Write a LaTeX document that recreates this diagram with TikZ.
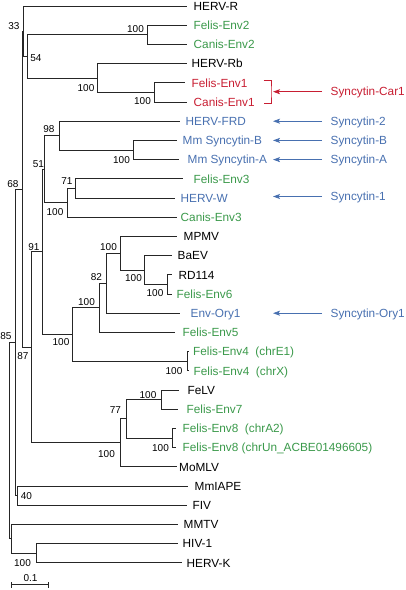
\documentclass[tikz,border=0pt]{standalone}
\usepackage{fontspec}
\setmainfont{Liberation Sans}
\usetikzlibrary{arrows.meta}
\definecolor{lgreen}{RGB}{58,153,74}
\definecolor{lred}{RGB}{200,30,50}
\definecolor{lblue}{RGB}{72,112,176}
\begin{document}
\begin{tikzpicture}[x=1pt,y=-1pt,
 br/.style={draw=black!85,line width=0.9pt},
 leaf/.style={anchor=west,inner ysep=0pt,text height=8.4pt,text depth=0pt,font=\fontsize{11.8}{14}\selectfont},
 bs/.style={inner sep=0pt,text height=7.2pt,text depth=0pt,font=\fontsize{10}{12}\selectfont},
 ann/.style={anchor=west,inner ysep=0pt,inner xsep=8.5pt,text height=8.4pt,text depth=0pt,font=\fontsize{11.8}{14}\selectfont},
 arr/.style={line width=0.8pt,-{Stealth[length=7pt,width=5pt,inset=1.5pt]}}]
\useasboundingbox (0,0) rectangle (406,590);
% internal nodes
\coordinate (root) at (9.3,440.6);
\coordinate (n85) at (15.5,342.4);
\coordinate (nM) at (11.7,538.8);
\coordinate (nHI) at (36,553.2);
\coordinate (nK) at (17.3,495.6);
\coordinate (n68) at (22,189.3);
\coordinate (n33) at (23.3,31.2);
\coordinate (n54) at (27.3,56.4);
\coordinate (nFC2) at (147,34.8);
\coordinate (nRb) at (97,78);
\coordinate (nFC1) at (154,92.4);
\coordinate (n87) at (31,347.3);
\coordinate (n91) at (42,251.85);
\coordinate (n51) at (44,169.2);
\coordinate (n98) at (59,135.6);
\coordinate (nMm) at (133,150);
\coordinate (nC3) at (67,202.8);
\coordinate (n71) at (75,188.4);
\coordinate (nX) at (72,334.5);
\coordinate (nA) at (99,307.8);
\coordinate (nB) at (106,283.2);
\coordinate (nC) at (120,253.2);
\coordinate (nD) at (144,270);
\coordinate (nE) at (167.5,284.4);
\coordinate (nF) at (187,361.2);
\coordinate (nG) at (120,442.8);
\coordinate (nH) at (126,418.8);
\coordinate (nI) at (161,399.6);
\coordinate (nJ) at (172,438);
% leaves
\node[leaf,inner xsep=6.5pt] (l0) at (187,6) {HERV-R};
\node[leaf,inner xsep=6.5pt,text=lgreen] (l1) at (187,25.2) {Felis-Env2};
\node[leaf,inner xsep=6.5pt,text=lgreen] (l2) at (187,44.4) {Canis-Env2};
\node[leaf,inner xsep=4.5pt] (l3) at (187,63.6) {HERV-Rb};
\node[leaf,inner xsep=6.5pt,text=lred] (l4) at (185,82.8) {Felis-Env1};
\node[leaf,inner xsep=6.5pt,text=lred] (l5) at (187,102) {Canis-Env1};
\node[leaf,inner xsep=5.5pt,text=lblue] (l6) at (180,121.2) {HERV-FRD};
\node[leaf,inner xsep=5.5pt,text=lblue] (l7) at (177,140.4) {Mm Syncytin-B};
\node[leaf,inner xsep=8.5pt,text=lblue] (l8) at (179,159.6) {Mm Syncytin-A};
\node[leaf,inner xsep=10.5pt,text=lgreen] (l9) at (183,178.8) {Felis-Env3};
\node[leaf,inner xsep=5.5pt,text=lblue] (l10) at (175,198) {HERV-W};
\node[leaf,inner xsep=3.5pt,text=lgreen] (l11) at (177,217.2) {Canis-Env3};
\node[leaf,inner xsep=6.5pt] (l12) at (177,236.4) {MPMV};
\node[leaf,inner xsep=5.5pt] (l13) at (172,255.6) {BaEV};
\node[leaf,inner xsep=6.5pt] (l14) at (172,274.8) {RD114};
\node[leaf,inner xsep=4.5pt,text=lgreen] (l15) at (172,294) {Felis-Env6};
\node[leaf,inner xsep=10.5pt,text=lblue] (l16) at (180,313.2) {Env-Ory1};
\node[leaf,inner xsep=7.5pt,text=lgreen] (l17) at (175,332.4) {Felis-Env5};
\node[leaf,inner xsep=4pt,text=lgreen] (l18) at (189,351.6) {Felis-Env4\ \ (chrE1)};
\node[leaf,inner xsep=4.5pt,text=lgreen] (l19) at (189,370.8) {Felis-Env4\ \ (chrX)};
\node[leaf,inner xsep=8.5pt] (l20) at (179,390) {FeLV};
\node[leaf,inner xsep=8.5pt,text=lgreen] (l21) at (178,409.2) {Felis-Env7};
\node[leaf,inner xsep=6.5pt,text=lgreen] (l22) at (176,428.4) {Felis-Env8\ \ (chrA2)};
\node[leaf,inner xsep=6.5pt,text=lgreen] (l23) at (176,447.6) {Felis-Env8 (chrUn\_ACBE01496605)};
\node[leaf,inner xsep=2pt] (l24) at (177,466.8) {MoMLV};
\node[leaf,inner xsep=6.5pt] (l25) at (188,486) {MmIAPE};
\node[leaf,inner xsep=5.5pt] (l26) at (187,505.2) {FIV};
\node[leaf,inner xsep=5.5pt] (l27) at (178,524.4) {MMTV};
\node[leaf,inner xsep=4.5pt] (l28) at (178,543.6) {HIV-1};
\node[leaf,inner xsep=4.5pt] (l29) at (182,562.8) {HERV-K};
% branches between internal nodes
\foreach \p/\c in {root/n85,root/nM,nM/nHI,n85/n68,n85/nK,n68/n33,n68/n87,n33/n54,
  n54/nFC2,n54/nRb,nRb/nFC1,n87/n91,n87/nG,n91/n51,n91/nX,n51/n98,n51/nC3,n98/nMm,
  nC3/n71,nX/nA,nX/nF,nA/nB,nB/nC,nC/nD,nD/nE,nG/nH,nH/nI,nH/nJ}
  \draw[br] (\p) |- (\c);
% branches to leaves
\foreach \p/\c in {n33/l0,nFC2/l1,nFC2/l2,nRb/l3,nFC1/l4,nFC1/l5,n98/l6,nMm/l7,nMm/l8,
  n71/l9,n71/l10,nC3/l11,nC/l12,nD/l13,nE/l14,nE/l15,nB/l16,nA/l17,nF/l18,nF/l19,
  nI/l20,nI/l21,nJ/l22,nJ/l23,nG/l24,nK/l25,nK/l26,nM/l27,nHI/l28,nHI/l29}
  \draw[br] (\p) |- (\c.west);
% bootstrap values
\node[bs] (b33) at (14,26) {33};
\node[bs] (b54) at (36,58) {54};
\node[bs] (bFC2) at (135.5,28.5) {100};
\node[bs] (bRb) at (86,87.5) {100};
\node[bs] (bFC1) at (142.5,100.5) {100};
\node[bs] (b98) at (49,128.5) {98};
\node[bs] (bMm) at (121.5,159.5) {100};
\node[bs] (b51) at (38.5,163.5) {51};
\node[bs] (b71) at (67,181) {71};
\node[bs] (b68) at (13,183.5) {68};
\node[bs] (bC3) at (55,211.5) {100};
\node[bs] (b91) at (34,246.5) {91};
\node[bs] (bC) at (108.5,246.5) {100};
\node[bs] (b82) at (96.5,277) {82};
\node[bs] (bD) at (133.5,278) {100};
\node[bs] (bE) at (155,293) {100};
\node[bs] (bA) at (86.5,301.5) {100};
\node[bs] (bX) at (61,342) {100};
\node[bs] (b85) at (6,335.5) {85};
\node[bs] (b87) at (23,355.5) {87};
\node[bs] (bF) at (174,371) {100};
\node[bs] (bI) at (148,394.5) {100};
\node[bs] (b77) at (115.5,409.5) {77};
\node[bs] (bJ) at (160.5,448) {100};
\node[bs] (bG) at (106.5,453.5) {100};
\node[bs] (b40) at (26.5,496) {40};
\node[bs] (bHI) at (22.5,563) {100};
% annotations
\coordinate (bkt) at (263.5,80.5);
\coordinate (bkm) at (271,91.7);
\coordinate (bkb) at (263.5,103);
\draw[lred,line width=0.9pt] (bkt) -| (bkm) |- (bkb);
\coordinate (tCar) at (273,91.7);
\coordinate (t2) at (273,121.2);
\coordinate (tB) at (273,140.4);
\coordinate (tA) at (273,159.6);
\coordinate (t1) at (273,196.5);
\coordinate (tO) at (273,313.2);
\node[ann,text=lred] (sCar) at (322,91.7) {Syncytin-Car1};
\node[ann,text=lblue] (s2) at (322,121.2) {Syncytin-2};
\node[ann,text=lblue] (sB) at (322,140.4) {Syncytin-B};
\node[ann,text=lblue] (sA) at (322,159.6) {Syncytin-A};
\node[ann,text=lblue] (s1) at (322,196.5) {Syncytin-1};
\node[ann,text=lblue] (sO) at (322,313.2) {Syncytin-Ory1};
\draw[arr,lred] (sCar.west) -- (tCar);
\draw[arr,lblue] (s2.west) -- (t2);
\draw[arr,lblue] (sB.west) -- (tB);
\draw[arr,lblue] (sA.west) -- (tA);
\draw[arr,lblue] (s1.west) -- (t1);
\draw[arr,lblue] (sO.west) -- (tO);
% scale bar
\coordinate (sb1) at (11,584.5);
\coordinate (sb2) at (48,584.5);
\draw[br] (sb1) -- (sb2);
\draw[br] ([yshift=-3pt]sb1) -- ([yshift=3pt]sb1);
\draw[br] ([yshift=-3pt]sb2) -- ([yshift=3pt]sb2);
\node[bs] (sbl) at (30.5,578) {0.1};
\end{tikzpicture}
\end{document}
